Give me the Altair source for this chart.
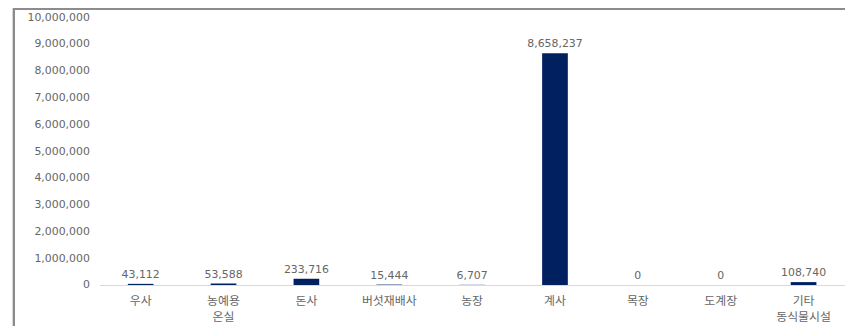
import altair as alt
import pandas as pd

categories = ["우사", "농예용\n온실", "돈사", "버섯재배사", "농장", "계사", "목장", "도계장", "기타\n동식물시설"]
values = [43112, 53588, 233716, 15444, 6707, 8658237, 0, 0, 108740]
y_ticks = [0, 1000000, 2000000, 3000000, 4000000, 5000000, 6000000, 7000000, 8000000, 9000000, 10000000]

df = pd.DataFrame({"cat": categories, "val": values})

x_enc = alt.X("cat:N", sort=categories, title=None,
              scale=alt.Scale(paddingInner=0.69, paddingOuter=0.345),
              axis=alt.Axis(labelAngle=0, labelExpr="split(datum.label, '\\n')",
                            labelFont="Noto Sans CJK KR", labelFontSize=12, labelColor="#666666",
                            labelPadding=11, labelLineHeight=16, ticks=False,
                            domainColor="#d9d9d9", domainWidth=1, labelBaseline="top"))
y_enc = alt.Y("val:Q", title=None,
              scale=alt.Scale(domain=[0, 10000000], nice=False),
              axis=alt.Axis(values=y_ticks, format=",.0f", grid=False, domain=False, ticks=False,
                            labelFont="DejaVu Sans", labelFontSize=11, labelColor="#666666",
                            labelPadding=10))

bars = alt.Chart(df).mark_bar(color="#002060").encode(x=x_enc, y=y_enc)
labels = alt.Chart(df).mark_text(baseline="bottom", dy=-4, font="DejaVu Sans",
                                 fontSize=11, color="#666666").encode(
    x=x_enc, y=y_enc, text=alt.Text("val:Q", format=",.0f"))

top_line = alt.Chart(df).mark_rule(color="#8c8c8c", strokeWidth=2).encode(
    x=alt.value(-86), x2=alt.value(760), y=alt.value(-8.5))
left_line = alt.Chart(df).mark_rule(color="#8c8c8c", strokeWidth=2).encode(
    x=alt.value(-86), y=alt.value(-9), y2=alt.value(320))

chart = alt.layer(bars, labels, top_line, left_line).properties(
    width=752, height=270,
    autosize=alt.AutoSizeParams(type="none"),
    padding={"left": 92, "top": 8, "right": 0, "bottom": 40},
).configure_view(stroke=None)

chart.save("out.html", embed_options={"renderer": "svg", "actions": False})
